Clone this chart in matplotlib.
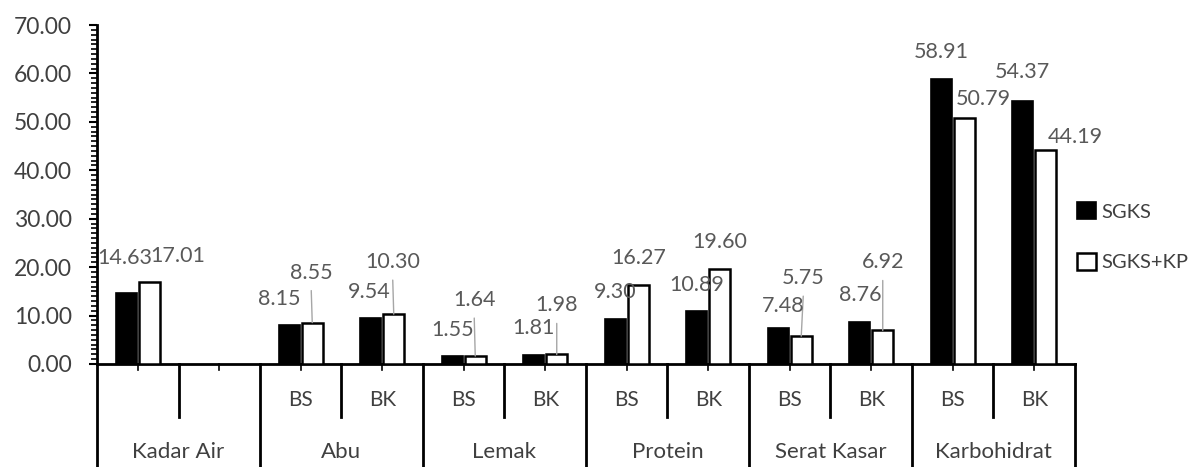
import matplotlib.pyplot as plt
import matplotlib.transforms as mtransforms
import numpy as np

plt.rcParams['font.family'] = ['Lato', 'DejaVu Sans']

groups = ['Kadar Air', 'Abu', 'Lemak', 'Protein', 'Serat Kasar', 'Karbohidrat']
subs = ['', '', 'BS', 'BK', 'BS', 'BK', 'BS', 'BK', 'BS', 'BK', 'BS', 'BK']
sgks = [14.63, np.nan, 8.15, 9.54, 1.55, 1.81, 9.30, 10.89, 7.48, 8.76, 58.91, 54.37]
sgks_kp = [17.01, np.nan, 8.55, 10.30, 1.64, 1.98, 16.27, 19.60, 5.75, 6.92, 50.79, 44.19]

# label offsets (px) from bar top, and whether a leader line is drawn
off_black = [(-1, 35), None, (-10, 26), (-2, 26), (0, 26), (0, 27), (0, 27), (0, 26), (5, 22), (0, 27), (0, 27), (0, 29)]
off_white = [(28, 26), None, (-1, 50), (-1, 52), (-1, 56), (0, 49), (0, 27), (0, 27), (2, 58), (0, 68), (19, 19), (30, 13)]
leader = [False, False, True, True, True, True, False, False, True, True, False, False]

fig = plt.figure(figsize=(11.97, 4.67), dpi=100)
ax = fig.add_axes([97/1197, 1-364/467, (1075-97)/1197, (364-25)/467])

x = np.arange(len(subs))
w = 0.258
d = 0.141
ax.bar(x - d, sgks, w, color='black', edgecolor='black', linewidth=1.2, label='SGKS', zorder=3)
ax.bar(x + d, sgks_kp, w, color='white', edgecolor='black', linewidth=1.8, label='SGKS+KP', zorder=3)

ax.set_xlim(-0.5, len(subs) - 0.5)
ax.set_ylim(0, 70)
ax.set_yticks(np.arange(0, 71, 10))
ax.set_yticklabels([f'{v:.2f}' for v in np.arange(0, 71, 10)], fontsize=16.5, color='#404040')
ax.set_yticks(np.arange(0, 70, 1), minor=True)
ax.tick_params(axis='y', which='major', length=6, width=1.5, direction='out', pad=12)
ax.tick_params(axis='y', which='minor', length=4, width=1.2, direction='out')
ax.set_xticks([])
for s in ['top', 'right']:
    ax.spines[s].set_visible(False)
ax.spines['left'].set_linewidth(2)
ax.spines['bottom'].set_linewidth(2)

lab_col = '#595959'
px = 72 / fig.dpi
for i in range(len(subs)):
    for vals, offs, xs, lead in [(sgks, off_black, x[i] - d, False), (sgks_kp, off_white, x[i] + d, leader[i])]:
        v = vals[i]
        if np.isnan(v):
            continue
        dx, dy = offs[i]
        ax.annotate(f'{v:.2f}', xy=(xs, v), xytext=(dx * px, dy * px), textcoords='offset points',
                    ha='center', va='center', fontsize=15.5, color=lab_col, annotation_clip=False, zorder=4)
        if lead:
            ax.annotate('', xy=(xs, v), xytext=(dx * px, (dy - 18) * px), textcoords='offset points',
                        arrowprops=dict(arrowstyle='-', color='#a6a6a6', lw=1, shrinkA=0, shrinkB=0))

# multi-level category axis
trans = mtransforms.blended_transform_factory(ax.transData, ax.transAxes)
ax_h = (364 - 25)
def ypx(p):
    return -(p - 364) / ax_h

for i in range(len(subs)):
    ax.plot([i, i], [0, ypx(370)], transform=trans, color='black', lw=1.2, clip_on=False)
    ax.text(i, ypx(400), subs[i], transform=trans, ha='center', va='center', fontsize=15, color='#404040')
for g in range(len(groups) + 1):
    xe = 2 * g - 0.5
    ax.plot([xe, xe], [0, ypx(466)], transform=trans, color='black', lw=2, clip_on=False)
    if g < len(groups):
        ax.plot([xe + 1, xe + 1], [0, ypx(417)], transform=trans, color='black', lw=2, clip_on=False)
        ax.text(xe + 1, ypx(452), groups[g], transform=trans, ha='center', va='center', fontsize=16, color='#404040')

ax.legend(loc='center left', bbox_to_anchor=(0.984, 0.375), frameon=False, fontsize=14.5,
          handlelength=0.9, handleheight=0.9, handletextpad=0.3, labelspacing=1.6, labelcolor='#404040')

fig.savefig('out.png', dpi=100)
